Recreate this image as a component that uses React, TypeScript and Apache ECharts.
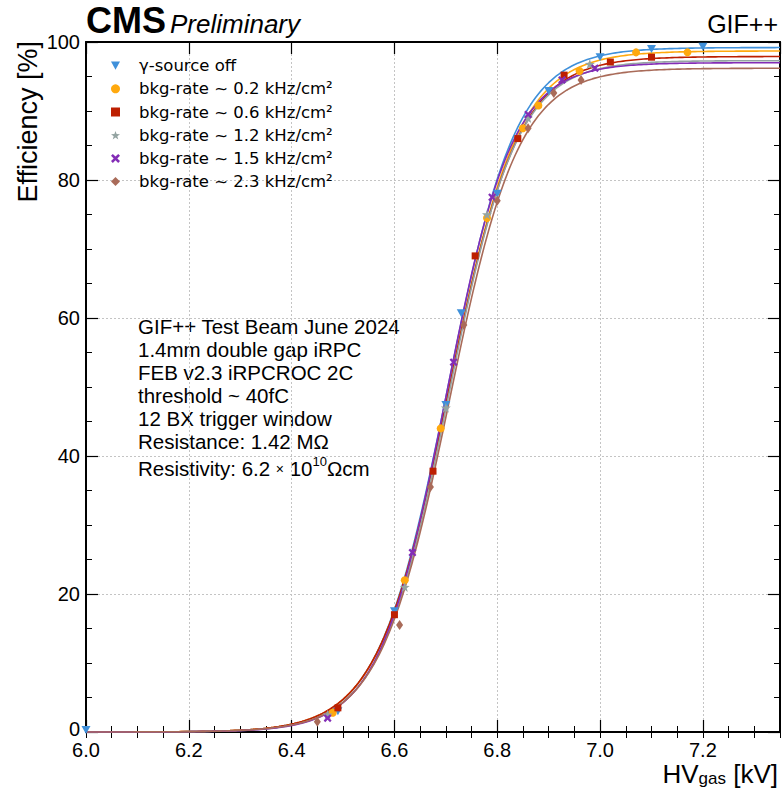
import React, { useEffect, useRef } from "react";
import * as echarts from "echarts";

// ---- data ----
const seriesNames = [
  "γ-source off",
  "bkg-rate ~ 0.2 kHz/cm²",
  "bkg-rate ~ 0.6 kHz/cm²",
  "bkg-rate ~ 1.2 kHz/cm²",
  "bkg-rate ~ 1.5 kHz/cm²",
  "bkg-rate ~ 2.3 kHz/cm²",
];
const seriesColors = ["#3f90da", "#ffa90e", "#bd1f01", "#94a4a2", "#832db6", "#a96b59"];

const hvOff = [6.0, 6.49, 6.6, 6.7, 6.73, 6.8, 6.9, 7.0, 7.1, 7.2];
const effOff = [0.3, 3.0, 17.5, 47.4, 60.7, 78.0, 92.9, 97.8, 99.0, 99.3];
const hv02 = [6.48, 6.62, 6.69, 6.78, 6.85, 6.88, 6.96, 7.07, 7.17];
const eff02 = [2.8, 22.0, 44.0, 74.5, 87.5, 90.8, 95.8, 98.5, 98.5];
const hv06 = [6.49, 6.6, 6.675, 6.757, 6.84, 6.93, 7.02, 7.1];
const eff06 = [3.5, 17.0, 37.8, 69.0, 86.0, 95.2, 97.1, 97.8];
const hv12 = [6.47, 6.62, 6.7, 6.78, 6.86, 6.98];
const eff12 = [2.5, 21.0, 47.0, 75.0, 89.0, 96.8];
const hv15 = [6.47, 6.635, 6.715, 6.79, 6.86, 6.926, 6.99];
const eff15 = [2.0, 26.0, 53.6, 77.5, 89.5, 94.5, 96.2];
const hv23 = [6.45, 6.61, 6.67, 6.735, 6.8, 6.86, 6.91, 6.963];
const eff23 = [1.5, 15.5, 35.5, 59.0, 77.0, 87.5, 92.6, 94.5];

// sigmoid fit parameters: eff = Emax / (1 + exp(-slope * (HV - HV50)))
const fitEmax = [99.2, 98.7, 97.9, 97.3, 97.0, 96.2];
const fitSlope = [14.8, 14.6, 14.6, 15.0, 15.4, 14.8];
const fitHV50 = [6.703, 6.705, 6.704, 6.705, 6.7, 6.707];

const xTickLabels = ["6.0", "6.2", "6.4", "6.6", "6.8", "7.0", "7.2"];
const yTickLabels = ["0", "20", "40", "60", "80", "100"];

const infoLines = [
  "GIF++ Test Beam June 2024",
  "1.4mm double gap iRPC",
  "FEB v2.3 iRPCROC 2C",
  "threshold ~ 40fC",
  "12 BX trigger window",
  "Resistance: 1.42 MΩ",
];

const hvLists = [hvOff, hv02, hv06, hv12, hv15, hv23];
const effLists = [effOff, eff02, eff06, eff12, eff15, eff23];

const X_MIN = 6.0;
const X_MAX = 7.35;

const STAR =
  "path://M5,0L6.176,3.382L9.755,3.455L6.902,5.618L7.939,9.045L5,7L2.061,9.045L3.098,5.618L0.245,3.455L3.824,3.382Z";
const XMARK = "path://M2,0L5,3L8,0L10,2L7,5L10,8L8,10L5,7L2,10L0,8L3,5L0,2Z";
const TRI_DOWN = "path://M0,0L10,0L5,9Z";
const symbols = [TRI_DOWN, "circle", "rect", STAR, XMARK, "diamond"];
const symbolSizes: any[] = [[9, 8], 8, 7, 10, 8, [7, 10]];

const HELV = "'Liberation Sans', Arial, sans-serif";

export default function App() {
  const ref = useRef<HTMLDivElement>(null);
  useEffect(() => {
    if (!ref.current) return;
    const chart = echarts.init(ref.current, undefined, { renderer: "svg" });

    const fitSeries = fitEmax.map((emax, i) => {
      const pts: number[][] = [];
      for (let k = 0; k <= 270; k++) {
        const x = X_MIN + k * 0.005;
        pts.push([x, emax / (1 + Math.exp(-fitSlope[i] * (x - fitHV50[i])))]);
      }
      return {
        name: "fit " + seriesNames[i],
        type: "line",
        data: pts,
        showSymbol: false,
        symbol: "none",
        lineStyle: { color: seriesColors[i], width: 1.6 },
        itemStyle: { color: seriesColors[i] },
        z: 2,
        silent: true,
      };
    });

    const scatterSeries = seriesNames.map((name, i) => ({
      name,
      type: "scatter",
      data: hvLists[i].map((h, j) => [h, effLists[i][j]]),
      symbol: symbols[i],
      symbolSize: symbolSizes[i],
      itemStyle: { color: seriesColors[i], opacity: 1 },
      z: 3,
    }));

    const majorX = (pos: "bottom" | "top", labels: boolean) => ({
      type: "value",
      position: pos,
      min: X_MIN,
      max: X_MAX,
      interval: 0.2,
      axisLine: { show: true, onZero: false, lineStyle: { color: "#000", width: 2 } },
      axisTick: { show: true, inside: true, length: 12, lineStyle: { color: "#000", width: 1.2 } },
      axisLabel: {
        show: labels,
        showMaxLabel: false,
        fontSize: 20,
        color: "#000",
        fontFamily: HELV,
        margin: 8,
        formatter: (v: number) => {
          const idx = Math.round((v - X_MIN) / 0.2);
          return xTickLabels[idx] ?? "";
        },
      },
      splitLine: labels
        ? { show: true, lineStyle: { color: "#c4c4c4", type: [2, 2], width: 1 } }
        : { show: false },
    });
    const minorX = (pos: "bottom" | "top") => ({
      type: "value",
      position: pos,
      min: X_MIN,
      max: X_MAX,
      interval: 0.05,
      axisLine: { show: false },
      axisTick: { show: true, inside: true, length: 6, lineStyle: { color: "#000", width: 1 } },
      axisLabel: { show: false },
      splitLine: { show: false },
    });
    const yAx = (pos: "left" | "right", labels: boolean) => ({
      type: "value",
      position: pos,
      min: 0,
      max: 100,
      interval: 20,
      axisLine: { show: true, onZero: false, lineStyle: { color: "#000", width: 2 } },
      axisTick: { show: true, inside: true, length: 12, lineStyle: { color: "#000", width: 1.2 } },
      minorTick: { show: true, splitNumber: 4, length: 6, lineStyle: { color: "#000", width: 1 } },
      axisLabel: {
        show: labels,
        fontSize: 20,
        color: "#000",
        fontFamily: HELV,
        margin: 6,
        formatter: (v: number) => {
          const idx = Math.round(v / 20);
          return idx === 0 ? "{z|" + yTickLabels[0] + "}" : yTickLabels[idx] ?? "";
        },
        rich: {
          z: { fontSize: 20, fontFamily: HELV, color: "#000", padding: [0, 0, 7, 0] },
        },
      },
      splitLine: labels
        ? { show: true, lineStyle: { color: "#c4c4c4", type: [2, 2], width: 1 } }
        : { show: false },
    });

    const infoGraphics: any[] = infoLines.map((t, i) => ({
      type: "text",
      x: 138,
      y: 326 + i * 23,
      style: { text: t, fontSize: 20.5, fontFamily: HELV, fill: "#000", align: "left", verticalAlign: "middle" },
    }));
    infoGraphics.push({
      type: "text",
      x: 138,
      y: 467,
      style: {
        text: "{a|Resistivity: 6.2 }{m|×}{a| 10}{s|10}{a|Ωcm}",
        align: "left",
        verticalAlign: "middle",
        fill: "#000",
        rich: {
          a: { fontSize: 20.5, fontFamily: HELV, fill: "#000", lineHeight: 24, verticalAlign: "bottom" },
          m: { fontSize: 14, fontFamily: HELV, fill: "#000", lineHeight: 24, verticalAlign: "bottom", padding: [0, 0, 3, 0] },
          s: { fontSize: 13, fontFamily: HELV, fill: "#000", lineHeight: 24, verticalAlign: "top" },
        },
      },
    });

    chart.setOption({
      animation: false,
      backgroundColor: "#fff",
      grid: { left: 86, right: 3, top: 42, bottom: 61, containLabel: false },
      xAxis: [majorX("bottom", true), minorX("bottom"), majorX("top", false), minorX("top")],
      yAxis: [yAx("left", true), yAx("right", false)],
      legend: {
        data: seriesNames.map((n, i) => ({ name: n, icon: symbols[i] })),
        orient: "vertical",
        left: 111,
        top: 57,
        itemWidth: 9,
        itemHeight: 9,
        itemGap: 6,
        padding: 0,
        selectedMode: false,
        textStyle: { fontFamily: "'DejaVu Sans', sans-serif", fontSize: 16.5, color: "#000", lineHeight: 17.2, padding: [0, 0, 0, 14] },
      },
      series: [...fitSeries, ...scatterSeries],
      graphic: [
        { type: "text", x: 86, y: 20, style: { text: "CMS", fontSize: 36, fontWeight: "bold", fontFamily: HELV, fill: "#000", align: "left", verticalAlign: "middle" } },
        { type: "text", x: 170, y: 23.5, style: { text: "Preliminary", fontSize: 26, fontStyle: "italic", fontFamily: HELV, fill: "#000", align: "left", verticalAlign: "middle" } },
        { type: "text", x: 778, y: 24, style: { text: "GIF++", fontSize: 25, fontFamily: HELV, fill: "#000", align: "right", verticalAlign: "middle" } },
        { type: "text", x: 28, y: 41, rotation: Math.PI / 2, style: { text: "Efficiency [%]", fontSize: 27, fontFamily: HELV, fill: "#000", align: "right", verticalAlign: "middle" } },
        {
          type: "text",
          x: 778,
          y: 772,
          style: {
            text: "{a|HV}{b|gas}{a| [kV]}",
            align: "right",
            verticalAlign: "middle",
            rich: {
              a: { fontSize: 26, fontFamily: HELV, fill: "#000", lineHeight: 30, verticalAlign: "bottom" },
              b: { fontSize: 17, fontFamily: HELV, fill: "#000", lineHeight: 30, verticalAlign: "bottom" },
            },
          },
        },
        ...infoGraphics,
      ],
    });
    return () => chart.dispose();
  }, []);
  return <div ref={ref} style={{ position: "absolute", left: 0, top: 0, width: 783, height: 793 }} />;
}
